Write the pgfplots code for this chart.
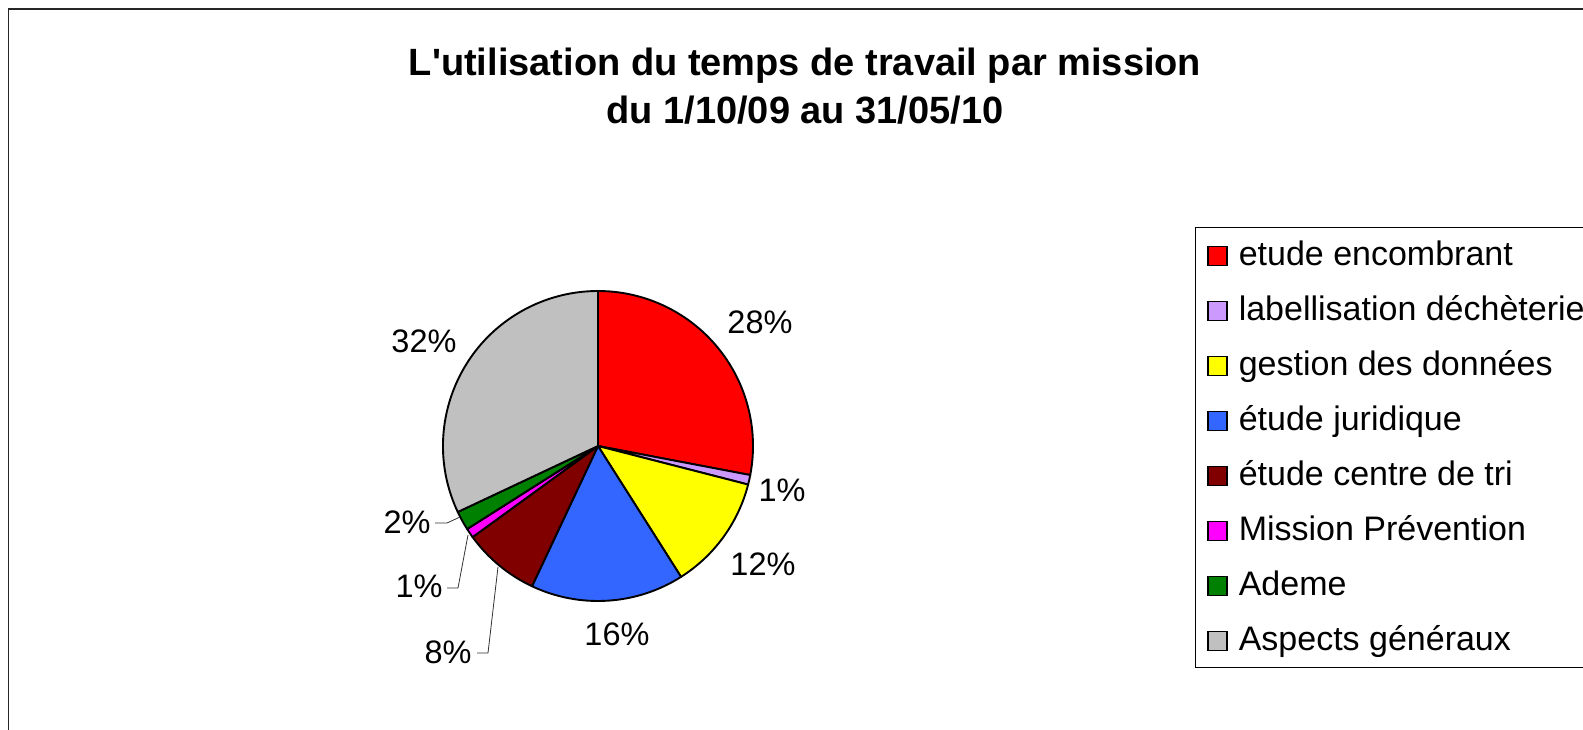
\documentclass[border=0pt]{standalone}
\usepackage{fontspec}
\setmainfont{Liberation Sans}[Ligatures=TeXOff]
\usepackage{pgfplots}
\usepackage{pgfplotstable}
\pgfplotsset{compat=1.18}

\definecolor{pred}{HTML}{FF0000}
\definecolor{plav}{HTML}{CC99FF}
\definecolor{pyel}{HTML}{FFFF00}
\definecolor{pblu}{HTML}{3366FF}
\definecolor{pbrn}{HTML}{800000}
\definecolor{pmag}{HTML}{FF00FF}
\definecolor{pgrn}{HTML}{008000}
\definecolor{pgry}{HTML}{C0C0C0}

% share of working time per mission (percent), clockwise from 12 o'clock
\pgfplotstableread[col sep=comma]{
value,color,lx,ly
28,pred,760,334
1,plav,782,501
12,pyel,763,575
16,pblu,617,645
8,pbrn,448,663
1,pmag,419,597
2,pgrn,407,533
32,pgry,424,352
}\piedata

\begin{document}
\begin{tikzpicture}
\begin{axis}[
  scale only axis, width=1583pt, height=730pt,
  xmin=0, xmax=1583, ymin=0, ymax=730, y dir=reverse,
  hide axis, clip=false,
  legend cell align=left,
  legend image code/.code={\draw[#1, line width=1.4pt] (0pt,-10.4pt) rectangle (19pt,8.6pt);},
  legend style={
    at={(1195/1583,{1-227/730})}, anchor=north west,
    draw=black, line width=0.8pt,
    font=\fontsize{34}{40}\selectfont,
    inner xsep=12pt, inner ysep=10pt,
    row sep=20pt, column sep=11pt,
    nodes={inner sep=0pt, text height=28pt, text depth=7pt},
  },
]
% frame of the chart area
\draw[line width=1.6pt, black!85] (axis cs:8.3,760) -- (axis cs:8.3,9) -- (axis cs:1620,9);

% title
\node[anchor=base, inner sep=0pt, font=\bfseries\fontsize{38}{46}\selectfont] at (axis cs:805,76) {L'utilisation du temps de travail par mission};
\node[anchor=base, inner sep=0pt, font=\bfseries\fontsize{38}{46}\selectfont] at (axis cs:805,124) {du 1/10/09 au 31/05/10};

% pie slices
\pgfplotsextra{
  \pgfplotstablegetrowsof{\piedata}
  \pgfmathtruncatemacro{\N}{\pgfplotsretval-1}
  \xdef\angA{90}
  \foreach \i in {0,...,\N}{
    \pgfplotstablegetelem{\i}{value}\of\piedata \let\v\pgfplotsretval
    \pgfplotstablegetelem{\i}{color}\of\piedata \let\c\pgfplotsretval
    \pgfplotstablegetelem{\i}{lx}\of\piedata \let\lx\pgfplotsretval
    \pgfplotstablegetelem{\i}{ly}\of\piedata \let\ly\pgfplotsretval
    \pgfmathsetmacro\angB{\angA-3.6*\v}
    \filldraw[fill=\c, draw=black, line width=1.9pt, line join=round]
      (axis cs:598,446) -- ++(\angA:155pt) arc[start angle=\angA, end angle=\angB, radius=155pt] -- cycle;
    \node[anchor=base, inner sep=0pt, font=\fontsize{32.5}{38}\selectfont] at (axis cs:\lx,\ly) {\v\%};
    \xdef\angA{\angB}
  }
}

% leader lines
\draw[line width=0.8pt, black!80] (axis cs:435,523) -- (axis cs:447,523) -- (axis cs:460,517);
\draw[line width=0.8pt, black!80] (axis cs:447,588) -- (axis cs:458,588) -- (axis cs:468,535);
\draw[line width=0.8pt, black!80] (axis cs:477,653) -- (axis cs:488,653) -- (axis cs:498,567);

\addlegendimage{fill=pred, draw=black}
\addlegendentry{etude encombrant}
\addlegendimage{fill=plav, draw=black}
\addlegendentry{labellisation déchèterie}
\addlegendimage{fill=pyel, draw=black}
\addlegendentry{gestion des données}
\addlegendimage{fill=pblu, draw=black}
\addlegendentry{étude juridique}
\addlegendimage{fill=pbrn, draw=black}
\addlegendentry{étude centre de tri}
\addlegendimage{fill=pmag, draw=black}
\addlegendentry{Mission Prévention}
\addlegendimage{fill=pgrn, draw=black}
\addlegendentry{Ademe}
\addlegendimage{fill=pgry, draw=black}
\addlegendentry{Aspects généraux}
\end{axis}
\pgfresetboundingbox
\path[use as bounding box] (0,0) rectangle (1583pt,730pt);
\end{tikzpicture}
\end{document}
